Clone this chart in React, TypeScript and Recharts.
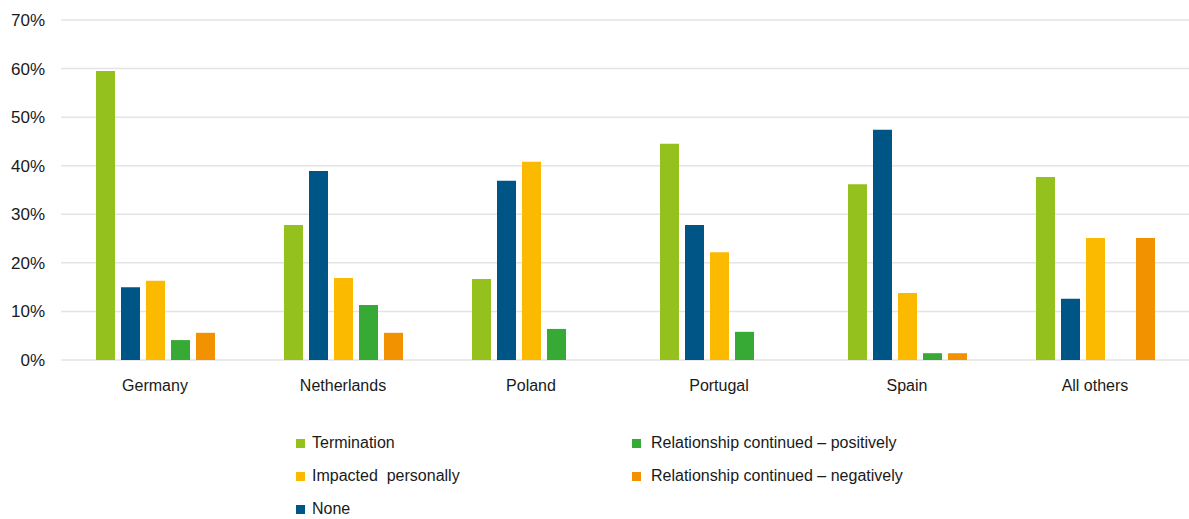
import React from "react";
import { BarChart, Bar, XAxis, YAxis, CartesianGrid } from "recharts";

const countries = ["Germany", "Netherlands", "Poland", "Portugal", "Spain", "All others"];

const termination = [59.5, 27.8, 16.7, 44.5, 36.2, 37.7];
const none = [15.0, 38.9, 36.9, 27.8, 47.4, 12.6];
const impactedPersonally = [16.3, 16.9, 40.8, 22.2, 13.8, 25.1];
const continuedPositively = [4.1, 11.3, 6.4, 5.8, 1.4, 0];
const continuedNegatively = [5.6, 5.6, 0, 0, 1.4, 25.1];

const yTicks = [0, 10, 20, 30, 40, 50, 60, 70];

const SERIES = [
  { key: "termination", name: "Termination", color: "#95C11F" },
  { key: "none", name: "None", color: "#005587" },
  { key: "impacted", name: "Impacted  personally", color: "#FBBA00" },
  { key: "positive", name: "Relationship continued \u2013 positively", color: "#37A935" },
  { key: "negative", name: "Relationship continued \u2013 negatively", color: "#F39200" },
];

const data = countries.map((c, i) => ({
  country: c,
  termination: termination[i],
  none: none[i],
  impacted: impactedPersonally[i],
  positive: continuedPositively[i],
  negative: continuedNegatively[i],
}));

// legend is laid out in two columns, filled top to bottom
const legendItems = [
  { key: "termination", col: 0, row: 0 },
  { key: "impacted", col: 0, row: 1 },
  { key: "none", col: 0, row: 2 },
  { key: "positive", col: 1, row: 0 },
  { key: "negative", col: 1, row: 1 },
];

const FONT = "'Liberation Sans', Arial, sans-serif";

export default function App() {
  return (
    <div style={{ position: "absolute", left: 0, top: 0, width: 1189, height: 519, background: "#fff", fontFamily: FONT }}>
      <BarChart
        width={1189}
        height={400}
        data={data}
        margin={{ top: 20, right: 0, left: 0, bottom: 10 }}
        barSize={19}
        barGap={6}
      >
        <CartesianGrid vertical={false} stroke="#e4e4e4" strokeWidth={1.5} />
        <XAxis
          dataKey="country"
          axisLine={false}
          tickLine={false}
          height={30}
          tickMargin={14}
          tick={{ fontSize: 16, fill: "#1a1a1a", fontFamily: FONT }}
        />
        <YAxis
          width={61}
          domain={[0, 70]}
          ticks={yTicks}
          axisLine={false}
          tickLine={false}
          tickMargin={10}
          tickFormatter={(v) => `${v}%`}
          tick={{ fontSize: 17, fill: "#1a1a1a", fontFamily: FONT }}
        />
        {SERIES.map((s) => (
          <Bar key={s.key} dataKey={s.key} name={s.name} fill={s.color} isAnimationActive={false} />
        ))}
      </BarChart>
      {legendItems.map((item) => {
        const s = SERIES.find((x) => x.key === item.key)!;
        return (
          <div
            key={item.key}
            style={{
              position: "absolute",
              left: item.col === 0 ? 296 : 632,
              top: 433 + item.row * 33,
              display: "flex",
              alignItems: "center",
              fontSize: 16,
              color: "#1a1a1a",
              whiteSpace: "pre",
              height: 20,
            }}
          >
            <span style={{ width: 9, height: 9, background: s.color, marginRight: item.col === 0 ? 7 : 10 }} />
            {s.name}
          </div>
        );
      })}
    </div>
  );
}
